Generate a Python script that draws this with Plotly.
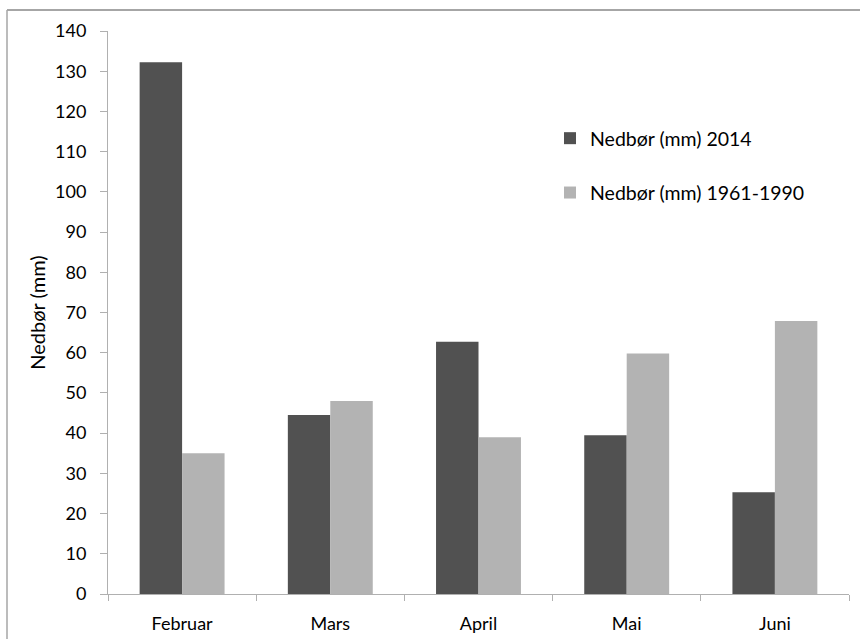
import plotly.graph_objects as go

# Monthly precipitation (mm)
months = ["Februar", "Mars", "April", "Mai", "Juni"]
precip_2014 = [132.2, 44.5, 62.7, 39.5, 25.3]
precip_normal = [35.0, 48.0, 39.0, 59.8, 67.9]

series_names = ["Nedbør (mm) 2014", "Nedbør (mm) 1961-1990"]
series_colors = ["#515151", "#b3b3b3"]

y_ticks = list(range(0, 141, 10))

FONT = "Lato, Open Sans, sans-serif"

fig = go.Figure()
for name, vals, col, grp in zip(series_names, [precip_2014, precip_normal],
                                series_colors, ["a", "b"]):
    fig.add_trace(go.Bar(
        x=months, y=vals, name=name, legendgroup=grp,
        marker=dict(color=col, line=dict(width=0)),
    ))

fig.update_layout(
    width=860, height=639,
    margin=dict(l=108, r=11, t=31, b=45),
    paper_bgcolor="white", plot_bgcolor="white",
    barmode="group", bargap=0.427, bargroupgap=0,
    font=dict(family=FONT, size=18, color="#000000"),
    legend=dict(
        x=(550 - 108) / 741, y=(594 - 119) / 563,
        xanchor="left", yanchor="top",
        traceorder="grouped", tracegroupgap=26,
        font=dict(size=19.5), bgcolor="rgba(0,0,0,0)",
    ),
    showlegend=True,
)

fig.update_xaxes(
    type="category", tickson="boundaries", automargin=False,
    showline=True, linecolor="#b0b0b0", linewidth=1,
    ticks="outside", ticklen=6, tickcolor="#b0b0b0",
    showgrid=False, zeroline=False,
    tickfont=dict(size=18), ticklabelstandoff=13,
)
fig.update_yaxes(
    range=[0, 140], tickvals=y_ticks, automargin=False,
    showline=True, linecolor="#b0b0b0", linewidth=1,
    ticks="outside", ticklen=7, tickcolor="#b0b0b0",
    showgrid=False, zeroline=False,
    tickfont=dict(size=18), ticklabelstandoff=10,
    title=dict(text="Nedbør (mm)", font=dict(size=20), standoff=4),
)

# Frame lines along the top and left edges
fig.add_shape(type="line", xref="paper", yref="paper",
              x0=(7 - 108) / 741, x1=(860 - 108) / 741,
              y0=(594 - 10) / 563, y1=(594 - 10) / 563,
              line=dict(color="#a6a6a6", width=2))
fig.add_shape(type="line", xref="paper", yref="paper",
              x0=(7 - 108) / 741, x1=(7 - 108) / 741,
              y0=(594 - 10) / 563, y1=(594 - 640) / 563,
              line=dict(color="#a6a6a6", width=1.5))

fig.write_html("out.html")
